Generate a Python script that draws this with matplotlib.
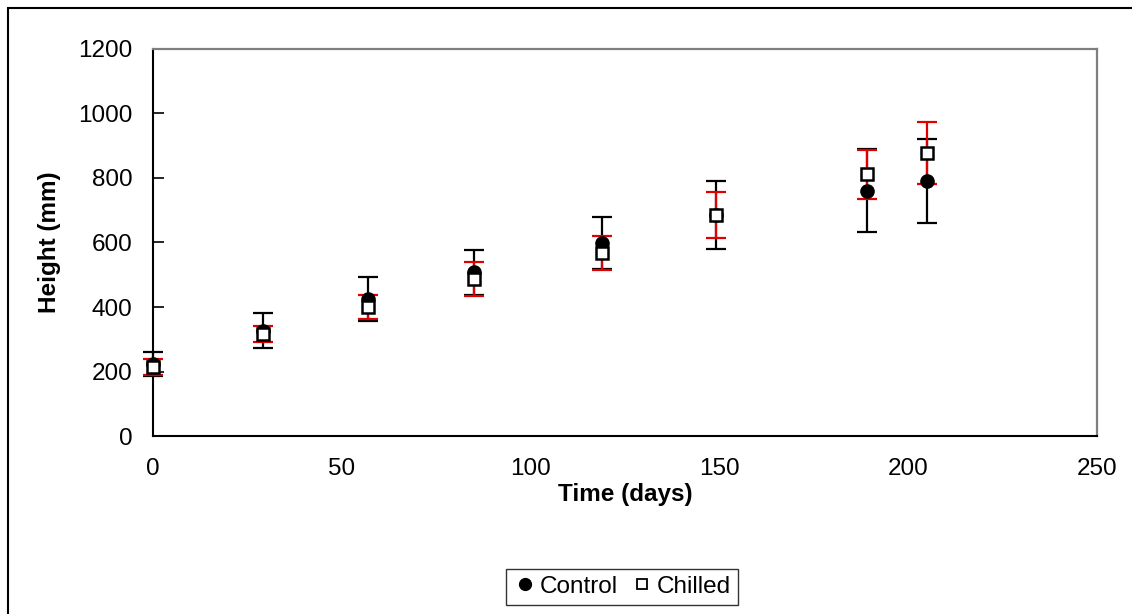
import matplotlib
matplotlib.use("Agg")
import matplotlib.pyplot as plt
from matplotlib.lines import Line2D
from matplotlib.patches import Rectangle

plt.rcParams['font.family'] = ['Liberation Sans', 'DejaVu Sans']

days = [0, 29, 57, 85, 119, 149, 189, 205]
control = [222, 327, 425, 507, 599, 685, 761, 792]
control_err = [37, 55, 69, 69, 80, 106, 128, 130]
chilled = [215, 315, 401, 487, 568, 685, 811, 878]
chilled_err = [25, 25, 37, 52, 52, 72, 75, 97]

fs = 17.5

fig = plt.figure(figsize=(11.32, 6.14), dpi=100)
ax = fig.add_axes([0.1352, 0.2899, 0.8339, 0.6303])

# error bars first, markers on top
ax.errorbar(days, control, yerr=control_err, fmt='none', ecolor='black',
            elinewidth=1.6, capsize=7, capthick=1.6, zorder=2, clip_on=False)
ax.errorbar(days, chilled, yerr=chilled_err, fmt='none', ecolor='#e00000',
            elinewidth=1.6, capsize=7, capthick=1.6, zorder=3, clip_on=False)
ax.plot(days, control, 'o', color='black', markersize=9.5, linestyle='none',
        zorder=4, clip_on=False)
ax.plot(days, chilled, 's', markerfacecolor='white', markeredgecolor='black',
        markeredgewidth=1.8, markersize=8.5, linestyle='none', zorder=5, clip_on=False)

ax.set_xlim(0, 250)
ax.set_ylim(0, 1200)
ax.set_xticks([0, 50, 100, 150, 200, 250])
ax.set_yticks(range(0, 1201, 200))
ax.tick_params(axis='x', length=0, labelsize=fs, pad=16)
ax.tick_params(axis='y', direction='in', length=8, width=1.2, labelsize=fs, pad=15)

for side in ['top', 'right']:
    ax.spines[side].set_color('#7f7f7f')
    ax.spines[side].set_linewidth(1.6)
for side in ['left', 'bottom']:
    ax.spines[side].set_color('black')
    ax.spines[side].set_linewidth(1.5)

ax.set_xlabel('Time (days)', fontsize=fs, fontweight='bold', labelpad=2)
ax.set_ylabel('Height (mm)', fontsize=fs, fontweight='bold', labelpad=12)

handles = [
    Line2D([], [], marker='o', color='black', linestyle='none', markersize=8.5),
    Line2D([], [], marker='s', markerfacecolor='white', markeredgecolor='black',
           markeredgewidth=1.3, linestyle='none', markersize=7),
]
leg = fig.legend(handles, ['Control', 'Chilled'], loc='center',
                 bbox_to_anchor=(0.5495, 0.044), ncol=2, fontsize=fs,
                 frameon=True, fancybox=False, handletextpad=0.1,
                 columnspacing=0.5, handlelength=1.0, borderpad=0.3)
leg.get_frame().set_edgecolor('black')
leg.get_frame().set_linewidth(1.0)

# outer chart border
fig.patches.append(Rectangle((7.5 / 1132, -0.1), 1.2, (614 - 7.5) / 614 + 0.1,
                             transform=fig.transFigure, fill=False,
                             edgecolor='black', linewidth=1.5))

fig.savefig('out.png', dpi=100)
